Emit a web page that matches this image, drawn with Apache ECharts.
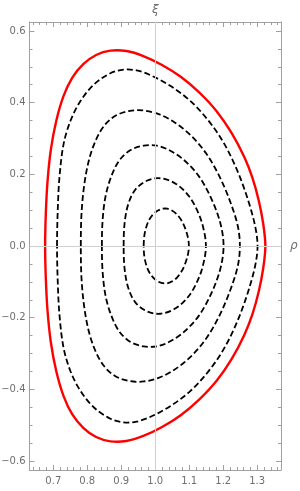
<!DOCTYPE html>
<html>
<head>
<meta charset="utf-8">
<script src="https://cdn.jsdelivr.net/npm/echarts@6/dist/echarts.min.js"></script>
<style>
html,body{margin:0;padding:0;background:#fff;}
#chart{width:300px;height:491px;}
</style>
</head>
<body>
<div id="chart"></div>
<script>
// ---- data ----
const xRange = [0.63, 1.37];
const yRange = [-0.625, 0.625];
const xMajor = [0.7, 0.8, 0.9, 1.0, 1.1, 1.2, 1.3];
const xTickLabels = ['0.7', '0.8', '0.9', '1.0', '1.1', '1.2', '1.3'];
const yMajor = [-0.6, -0.4, -0.2, 0, 0.2, 0.4, 0.6];
const yTickLabels = ['\u22120.6', '\u22120.4', '\u22120.2', '0.0', '0.2', '0.4', '0.6'];
const axisCross = { x: 1.0, y: 0.0 };
const axisNames = { x: '\u03c1', y: '\u03be' };

// boundary (red) contour
const boundary = [[0.676,0],[0.678,0.090],[0.683,0.180],[0.693,0.270],[0.709,0.350],[0.730,0.418],[0.756,0.470],[0.789,0.508],[0.826,0.533],[0.868,0.545],[0.915,0.544],[0.965,0.530],[1.020,0.505],[1.075,0.472],[1.130,0.428],[1.180,0.377],[1.225,0.315],[1.262,0.248],[1.286,0.190],[1.305,0.125],[1.318,0.060],[1.324,0],
  [1.318,-0.060],[1.305,-0.125],[1.286,-0.190],[1.262,-0.248],[1.225,-0.315],[1.180,-0.377],[1.130,-0.428],[1.075,-0.472],[1.020,-0.505],[0.965,-0.530],[0.915,-0.544],[0.868,-0.545],[0.826,-0.533],[0.789,-0.508],[0.756,-0.470],[0.730,-0.418],[0.709,-0.350],[0.693,-0.270],[0.683,-0.180],[0.678,-0.090],[0.676,0]];
// inner dashed contours, outermost first
const contour5 = [[0.711,0],[0.713,0.097],[0.718,0.190],[0.730,0.283],[0.750,0.348],[0.779,0.403],[0.819,0.450],[0.868,0.482],[0.907,0.492],[0.945,0.490],[0.985,0.477],[1.044,0.447],[1.103,0.405],[1.152,0.355],[1.195,0.298],[1.230,0.235],[1.260,0.165],[1.285,0.090],[1.297,0.040],[1.301,0],
  [1.297,-0.040],[1.285,-0.090],[1.260,-0.165],[1.230,-0.235],[1.195,-0.298],[1.152,-0.355],[1.103,-0.405],[1.044,-0.447],[0.985,-0.477],[0.945,-0.490],[0.907,-0.492],[0.868,-0.482],[0.819,-0.450],[0.779,-0.403],[0.750,-0.348],[0.730,-0.283],[0.718,-0.190],[0.713,-0.097],[0.711,0]];
const contour4 = [[0.781,0],[0.783,0.090],[0.791,0.170],[0.805,0.240],[0.825,0.295],[0.851,0.337],[0.884,0.364],[0.925,0.377],[0.966,0.378],[1.010,0.368],[1.055,0.346],[1.103,0.310],[1.150,0.258],[1.190,0.192],[1.222,0.120],[1.243,0.055],[1.249,0],
  [1.243,-0.055],[1.222,-0.120],[1.190,-0.192],[1.150,-0.258],[1.103,-0.310],[1.055,-0.346],[1.010,-0.368],[0.966,-0.378],[0.925,-0.377],[0.884,-0.364],[0.851,-0.337],[0.825,-0.295],[0.805,-0.240],[0.791,-0.170],[0.783,-0.090],[0.781,0]];
const contour3 = [[0.843,0],[0.845,0.070],[0.853,0.135],[0.869,0.190],[0.893,0.237],[0.926,0.267],[0.966,0.280],[1.005,0.280],[1.040,0.268],[1.083,0.241],[1.128,0.195],[1.166,0.130],[1.192,0.062],[1.201,0],
  [1.192,-0.062],[1.166,-0.130],[1.128,-0.195],[1.083,-0.241],[1.040,-0.268],[1.005,-0.280],[0.966,-0.280],[0.926,-0.267],[0.893,-0.237],[0.869,-0.190],[0.853,-0.135],[0.845,-0.070],[0.843,0]];
const contour2 = [[0.907,0],[0.910,0.065],[0.921,0.118],[0.942,0.158],[0.975,0.182],[1.015,0.189],[1.060,0.174],[1.100,0.138],[1.130,0.085],[1.145,0.035],[1.149,0],
  [1.145,-0.035],[1.130,-0.085],[1.100,-0.138],[1.060,-0.174],[1.015,-0.189],[0.975,-0.182],[0.942,-0.158],[0.921,-0.118],[0.910,-0.065],[0.907,0]];
const contour1 = [[0.966,0],[0.970,0.040],[0.984,0.076],[1.008,0.099],[1.035,0.104],[1.064,0.088],[1.087,0.052],[1.099,0],
  [1.087,-0.052],[1.064,-0.088],[1.035,-0.104],[1.008,-0.099],[0.984,-0.076],[0.970,-0.040],[0.966,0]];

// ---- minor tick positions ----
function steps(a, b, s) { const r = []; for (let v = a; v <= b + 1e-9; v += s) r.push(Math.round(v * 1000) / 1000); return r; }
const xMinor = steps(0.64, 1.36, 0.02);
const yMinor = steps(-0.6, 0.6, 0.05);

const FRAME = '#a0a0a0';
const LABEL = '#6e6e6e';
const FONT = 'DejaVu Sans';

function labelFor(values, labels) {
  return function (v) {
    const i = values.findIndex(m => Math.abs(m - v) < 1e-6);
    return i >= 0 ? labels[i] : '';
  };
}
function mkX(position, ticks, len, showLine, showLabel) {
  return {
    type: 'value', position: position, min: xRange[0], max: xRange[1],
    axisLine: { show: showLine, onZero: false, lineStyle: { color: FRAME, width: 1 } },
    axisTick: { show: true, inside: true, length: len, customValues: ticks, lineStyle: { color: FRAME, width: 1 } },
    axisLabel: showLabel ? { show: true, customValues: xMajor, formatter: labelFor(xMajor, xTickLabels), margin: 6, color: LABEL, fontSize: 10, fontFamily: FONT } : { show: false },
    splitLine: { show: false }
  };
}
function mkY(position, ticks, len, showLine, showLabel) {
  return {
    type: 'value', position: position, min: yRange[0], max: yRange[1],
    axisLine: { show: showLine, onZero: false, lineStyle: { color: FRAME, width: 1 } },
    axisTick: { show: true, inside: true, length: len, customValues: ticks, lineStyle: { color: FRAME, width: 1 } },
    axisLabel: showLabel ? { show: true, customValues: yMajor, formatter: labelFor(yMajor, yTickLabels), margin: 4, color: LABEL, fontSize: 10, fontFamily: FONT } : { show: false },
    splitLine: { show: false }
  };
}

// closed smooth path through the given pixel points (C1 cubic, chord-length arms)
function closedSmoothPath(pts) {
  const n = pts.length;
  const d = (a, b) => Math.hypot(b[0] - a[0], b[1] - a[1]);
  let s = 'M' + pts[0][0] + ' ' + pts[0][1];
  const tan = [];
  for (let i = 0; i < n; i++) {
    const p = pts[(i - 1 + n) % n], q = pts[(i + 1) % n];
    const tx = q[0] - p[0], ty = q[1] - p[1];
    const l = Math.hypot(tx, ty) || 1;
    tan.push([tx / l, ty / l]);
  }
  for (let i = 0; i < n; i++) {
    const a = pts[i], b = pts[(i + 1) % n];
    const L = d(a, b) / 3;
    const c1 = [a[0] + tan[i][0] * L, a[1] + tan[i][1] * L];
    const j = (i + 1) % n;
    const c2 = [b[0] - tan[j][0] * L, b[1] - tan[j][1] * L];
    s += ' C' + c1[0] + ' ' + c1[1] + ' ' + c2[0] + ' ' + c2[1] + ' ' + b[0] + ' ' + b[1];
  }
  return s + ' Z';
}

function contourSeries(data, stroke, width, dash) {
  return {
    type: 'custom', coordinateSystem: 'cartesian2d', xAxisIndex: 0, yAxisIndex: 0,
    data: data, silent: true, z: 3, clip: false,
    renderItem: function (params, api) {
      if (params.dataIndex !== 0) return null;
      let pts = data.map(p => api.coord(p));
      const f = pts[0], l = pts[pts.length - 1];
      if (Math.abs(f[0] - l[0]) < 1e-6 && Math.abs(f[1] - l[1]) < 1e-6) pts = pts.slice(0, -1);
      return {
        type: 'path',
        shape: { pathData: closedSmoothPath(pts) },
        style: { fill: null, stroke: stroke, lineWidth: width, lineDash: dash, lineJoin: 'round' }
      };
    }
  };
}

const DASH = [6, 3];
const chart = echarts.init(document.getElementById('chart'), null, { renderer: 'canvas' });
const option = {
  animation: false,
  grid: { left: 29.5, right: 19, top: 22, bottom: 21, containLabel: false, outerBoundsMode: 'none' },
  xAxis: [
    mkX('bottom', xMajor, 5, true, true),
    mkX('bottom', xMinor, 3, false, false),
    mkX('top', xMajor, 5, true, false),
    mkX('top', xMinor, 3, false, false)
  ],
  yAxis: [
    mkY('left', yMajor, 5, true, true),
    mkY('left', yMinor, 3, false, false),
    mkY('right', yMajor, 5, true, false),
    mkY('right', yMinor, 3, false, false)
  ],
  series: [
    {
      type: 'line', data: [], xAxisIndex: 0, yAxisIndex: 0, z: 1, silent: true,
      markLine: {
        silent: true, symbol: ['none', 'none'], animation: false,
        lineStyle: { color: '#cfcfcf', width: 1, type: 'solid' },
        data: [
          { xAxis: axisCross.x, label: { show: true, position: 'end', formatter: axisNames.y, distance: 6, color: LABEL, fontSize: 12, fontStyle: 'italic', fontFamily: FONT } },
          { yAxis: axisCross.y, label: { show: true, position: 'end', formatter: axisNames.x, distance: 9, color: LABEL, fontSize: 12, fontStyle: 'italic', fontFamily: FONT } }
        ]
      }
    },
    contourSeries(contour5, '#000000', 1.8, DASH),
    contourSeries(contour4, '#000000', 1.8, DASH),
    contourSeries(contour3, '#000000', 1.8, DASH),
    contourSeries(contour2, '#000000', 1.8, DASH),
    contourSeries(contour1, '#000000', 1.8, DASH),
    contourSeries(boundary, '#ff0000', 2.4, null)
  ]
};
chart.setOption(option);
</script>
</body>
</html>
